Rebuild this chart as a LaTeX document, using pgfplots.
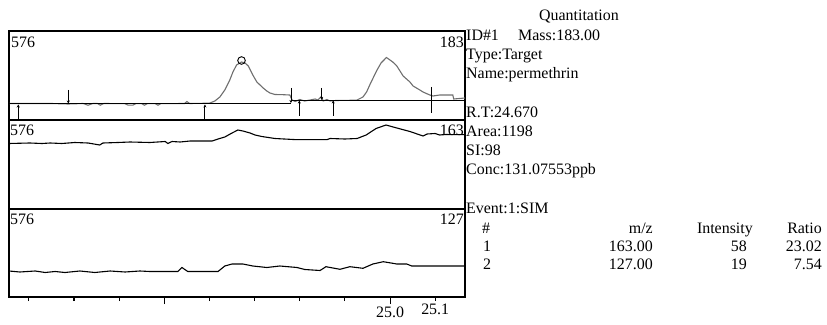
\documentclass[border=0pt]{standalone}
\usepackage{fontspec}
\setmainfont{Liberation Serif}
\usepackage{pgfplots}
\pgfplotsset{compat=1.18}
\usetikzlibrary{arrows.meta}
\definecolor{tracegray}{HTML}{6E6E6E}
\begin{document}
\fontsize{16}{19}\selectfont
\begin{tikzpicture}[x=1bp,y=1bp]
\path (0bp,0bp) rectangle (827bp,325bp);
\pgfplotsset{panel/.style={scale only axis, width=456bp, xmin=24.156, xmax=25.166, ymin=0,
  axis line style={line width=1.1bp, black}, anchor=south west, clip=true}}
% ---------- panel 1 ----------
\begin{axis}[panel, at={(9bp,205bp)}, height=89bp, ymax=89, xtick=\empty, ytick=\empty]
\addplot[tracegray, line width=1.1bp] coordinates {
(24.156,16.5) (24.250,16.5) (24.287,16.0) (24.320,16.5) (24.331,14.8) (24.342,16.5) (24.352,16.5) (24.358,14.8) (24.366,16.5) (24.413,16.3) (24.420,14.8) (24.430,14.8) (24.437,16.3) (24.450,16.3) (24.456,14.8) (24.462,16.3) (24.480,16.3) (24.486,14.8) (24.492,16.3) (24.545,16.5) (24.550,18.5) (24.556,16.5) (24.600,16.8) (24.612,19) (24.623,23) (24.634,30) (24.645,40) (24.652,48) (24.660,55) (24.671,58) (24.679,57) (24.686,54) (24.696,45) (24.705,38) (24.712,35) (24.719,32) (24.727,29) (24.734,27) (24.745,25.5) (24.763,25.3) (24.778,25) (24.783,20) (24.790,18.5) (24.800,20.5) (24.811,19) (24.823,20) (24.834,21) (24.840,20) (24.848,23.5) (24.852,19) (24.860,20.5) (24.867,19) (24.880,19.5) (24.926,19.8) (24.940,23) (24.948,28) (24.955,35) (24.970,49) (24.980,57) (24.992,62.5) (25.006,58) (25.015,54) (25.029,44) (25.044,38) (25.051,34) (25.066,30) (25.073,28) (25.088,25) (25.095,24) (25.110,25) (25.139,25) (25.141,21) (25.166,22)};
\addplot[black, line width=1.1bp] coordinates {(24.156,16.5) (24.780,16.5)};
\addplot[black, line width=1.1bp] coordinates {(24.780,19.5) (25.166,19.5)};
\addplot[black, line width=0.9bp, -{Stealth[length=3bp,width=3bp]}] coordinates {(24.1765,0) (24.1765,15.5)};
\addplot[black, line width=0.9bp, -{Stealth[length=3bp,width=3bp]}] coordinates {(24.2873,30) (24.2873,16.5)};
\addplot[black, line width=0.9bp, -{Stealth[length=3bp,width=3bp]}] coordinates {(24.590,0) (24.590,15.5)};
\addplot[black, line width=0.9bp, -{Stealth[length=3bp,width=3bp]}] coordinates {(24.7805,32) (24.7805,17)};
\addplot[black, line width=0.9bp, -{Stealth[length=3bp,width=3bp]}] coordinates {(24.799,4) (24.799,19.5)};
\addplot[black, line width=0.9bp, -{Stealth[length=3bp,width=3bp]}] coordinates {(24.8485,32) (24.8485,20)};
\addplot[black, line width=0.9bp, -{Stealth[length=3bp,width=3bp]}] coordinates {(24.874,4) (24.874,19.5)};
\addplot[black, line width=1.2bp] coordinates {(25.092,33) (25.092,7)};
\addplot[only marks, mark=o, mark size=3.8bp, black, mark options={line width=0.9bp}] coordinates {(24.671,59.5)};
\end{axis}
% ---------- panel 2 ----------
\begin{axis}[panel, at={(9bp,116bp)}, height=89bp, ymax=89, xtick=\empty, ytick=\empty]
\addplot[black, line width=1.1bp] coordinates {
(24.156,65.5) (24.202,66) (24.229,65.5) (24.247,66) (24.273,65.5) (24.302,66.5) (24.331,66) (24.357,64) (24.364,66) (24.397,66.5) (24.424,67) (24.468,66.5) (24.502,67.5) (24.508,65.5) (24.517,67.5) (24.535,67) (24.557,68) (24.606,68) (24.619,70) (24.634,72) (24.650,76) (24.663,79) (24.674,78) (24.690,76) (24.701,74) (24.716,72.5) (24.745,70.5) (24.794,69.3) (24.860,69.3) (24.867,70.5) (24.900,70) (24.927,70.5) (24.947,74) (24.969,80.5) (24.991,84) (25.015,81) (25.044,77.5) (25.073,73) (25.082,75) (25.100,75.5) (25.110,74) (25.124,74.5) (25.166,74.3)};
\end{axis}
% ---------- panel 3 ----------
\begin{axis}[panel, at={(9bp,28bp)}, height=88bp, ymax=88, ytick=\empty,
  xtick={24.2,24.3,24.4,24.6,24.7,24.8,24.9,25.1}, xticklabels={,,,,,,,25.1},
  extra x ticks={24.5,25.0}, extra x tick labels={,25.0},
  extra x tick style={major tick length=7bp},
  xtick pos=left, tick align=outside, major tick length=4bp,
  tick style={line width=1.1bp, black},
  xticklabel style={yshift=3bp}]
\addplot[black, line width=1.1bp] coordinates {
(24.156,26) (24.180,25) (24.214,26) (24.236,24.5) (24.258,25.5) (24.280,24.5) (24.313,26) (24.346,24.5) (24.380,26) (24.413,25) (24.446,26) (24.468,25.5) (24.530,25.5) (24.539,29.5) (24.552,25.5) (24.619,25.5) (24.634,31) (24.650,33) (24.674,33) (24.696,31) (24.727,29.5) (24.756,31) (24.794,29.5) (24.811,27.5) (24.845,26.5) (24.858,30.3) (24.889,27.7) (24.911,30.3) (24.940,28.7) (24.962,33) (24.985,35.3) (25.015,33) (25.037,33) (25.048,31) (25.166,31)};
\end{axis}
% ---------- panel labels ----------
\node[anchor=base west, inner sep=0] at (11bp,277bp) {576};
\node[anchor=base east, inner sep=0] at (464bp,277bp) {183};
\node[anchor=base west, inner sep=0] at (10bp,189bp) {576};
\node[anchor=base east, inner sep=0] at (464bp,189bp) {163};
\node[anchor=base west, inner sep=0] at (10bp,100bp) {576};
\node[anchor=base east, inner sep=0] at (464bp,100bp) {127};
% ---------- right text ----------
\node[anchor=base, inner sep=0] at (579bp,304.3bp) {Quantitation};
\node[anchor=base west, inner sep=0] at (466bp,284bp) {ID\#1};
\node[anchor=base west, inner sep=0] at (518bp,284bp) {Mass:183.00};
\node[anchor=base west, inner sep=0] at (466bp,265bp) {Type:Target};
\node[anchor=base west, inner sep=0] at (466bp,246.5bp) {Name:permethrin};
\node[anchor=base west, inner sep=0] at (466bp,207.5bp) {R.T:24.670};
\node[anchor=base west, inner sep=0] at (466bp,188bp) {Area:1198};
\node[anchor=base west, inner sep=0] at (466bp,169bp) {SI:98};
\node[anchor=base west, inner sep=0] at (466bp,150bp) {Conc:131.07553ppb};
\node[anchor=base west, inner sep=0] at (466bp,111bp) {Event:1:SIM};
\node[anchor=base west, inner sep=0] at (482bp,91.5bp) {\#};
\node[anchor=base east, inner sep=0] at (653bp,91.5bp) {m/z};
\node[anchor=base east, inner sep=0] at (753bp,91.5bp) {Intensity};
\node[anchor=base east, inner sep=0] at (822bp,91.5bp) {Ratio};
\node[anchor=base west, inner sep=0] at (483bp,73bp) {1};
\node[anchor=base east, inner sep=0] at (653bp,73bp) {163.00};
\node[anchor=base east, inner sep=0] at (747bp,73bp) {58};
\node[anchor=base east, inner sep=0] at (822bp,73bp) {23.02};
\node[anchor=base west, inner sep=0] at (483bp,55bp) {2};
\node[anchor=base east, inner sep=0] at (653bp,55bp) {127.00};
\node[anchor=base east, inner sep=0] at (747bp,55bp) {19};
\node[anchor=base east, inner sep=0] at (822bp,55bp) {7.54};
\end{tikzpicture}
\end{document}
